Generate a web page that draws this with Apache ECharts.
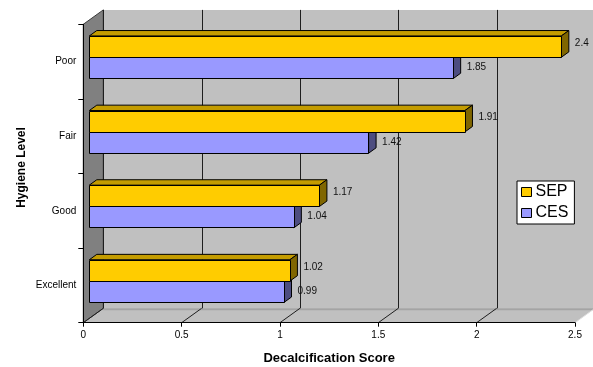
<!DOCTYPE html>
<html>
<head>
<meta charset="utf-8">
<script src="https://cdn.jsdelivr.net/npm/echarts@6/dist/echarts.min.js"></script>
<style>
  html, body { margin: 0; padding: 0; background: #fff; }
  #chart { width: 593px; height: 367px; }
</style>
</head>
<body>
<div id="chart"></div>
<script>
// Hygiene level categories, listed bottom to top
const categories = ['Excellent', 'Good', 'Fair', 'Poor'];
// Decalcification scores per group
const sepValues = [1.02, 1.17, 1.91, 2.4];
const cesValues = [0.99, 1.04, 1.42, 1.85];
// Value axis ticks
const xTicks = [0, 0.5, 1, 1.5, 2, 2.5];

const FONT = "'Liberation Sans', Arial, sans-serif";

// Depth of the pseudo-3D box (screen offset from front plane to back wall)
const DEPTH_X = 20, DEPTH_Y = -14.4;
// Bars sit partway into the box and have their own thickness
const BAR_FRONT = 0.3, BAR_THICK = 0.375;
const BAR_FRAC = 0.286; // bar height as fraction of a category band

const px = v => Math.round(v) + 0.5;

function frameItem(params, api) {
  const cs = params.coordSys;
  const x0 = cs.x, x1 = cs.x + cs.width;
  const yT = cs.y, yB = cs.y + cs.height;
  const children = [];
  // back wall
  children.push({ type: 'rect', shape: { x: x0 + DEPTH_X, y: yT + DEPTH_Y, width: x1 - x0 + 40, height: yB - yT },
    style: { fill: '#c0c0c0' } });
  // floor
  children.push({ type: 'polygon', shape: { points: [[x0, yB], [x1, yB], [x1 + DEPTH_X, yB + DEPTH_Y], [x0 + DEPTH_X, yB + DEPTH_Y]] },
    style: { fill: '#c0c0c0' } });
  // back edge of floor
  children.push({ type: 'line', shape: { x1: x0 + DEPTH_X, y1: yB + DEPTH_Y + 1, x2: x1 + DEPTH_X + 40, y2: yB + DEPTH_Y + 1 },
    style: { stroke: '#a4a4a4', lineWidth: 2 } });
  // left wall
  children.push({ type: 'polygon', shape: { points: [[x0, yT], [x0 + DEPTH_X, yT + DEPTH_Y], [x0 + DEPTH_X, yB + DEPTH_Y], [x0, yB]] },
    style: { fill: '#808080', stroke: '#3a3a3a', lineWidth: 1 } });
  // gridlines on back wall and floor
  xTicks.forEach(t => {
    const x = api.coord([t, 0])[0];
    children.push({ type: 'line', shape: { x1: px(x + DEPTH_X), y1: yT + DEPTH_Y, x2: px(x + DEPTH_X), y2: yB + DEPTH_Y },
      style: { stroke: '#1e1e1e', lineWidth: 1 } });
    children.push({ type: 'line', shape: { x1: x, y1: yB, x2: x + DEPTH_X, y2: yB + DEPTH_Y },
      style: { stroke: t === xTicks[xTicks.length - 1] ? '#e0e0e0' : '#1e1e1e', lineWidth: 1 } });
  });
  return { type: 'group', children };
}

function barRenderer(upper, colors, labelShift) {
  return function (params, api) {
    const v = api.value(0), c = api.value(1);
    const p0 = api.coord([0, c]);
    const p1 = api.coord([v, c]);
    const band = api.size([0, 1])[1];
    const h = band * BAR_FRAC;
    const fx = DEPTH_X * BAR_FRONT, fy = DEPTH_Y * BAR_FRONT;
    const dx = DEPTH_X * BAR_THICK, dy = DEPTH_Y * BAR_THICK;
    const xa = p0[0] + fx, xb = p1[0] + fx;
    const yt = (upper ? p0[1] - h : p0[1]) + fy;
    const yb = yt + h;
    const edge = { stroke: '#000', lineWidth: 1 };
    return {
      type: 'group',
      children: [
        { type: 'polygon', shape: { points: [[xa, yt], [xa + dx, yt + dy], [xb + dx, yt + dy], [xb, yt]] },
          style: Object.assign({ fill: colors.top }, edge) },
        { type: 'polygon', shape: { points: [[xb, yt], [xb + dx, yt + dy], [xb + dx, yb + dy], [xb, yb]] },
          style: Object.assign({ fill: colors.side }, edge) },
        { type: 'rect', shape: { x: px(xa), y: px(yt), width: Math.round(xb - xa), height: Math.round(h) },
          style: Object.assign({ fill: colors.front }, edge) },
        { type: 'text', style: { text: String(v), x: xb + dx + 6, y: (yt + yb) / 2 + labelShift,
          fill: '#111', font: '10px ' + FONT, verticalAlign: 'middle', align: 'left' } }
      ]
    };
  };
}

const chart = echarts.init(document.getElementById('chart'), null, { renderer: 'canvas' });
chart.setOption({
  backgroundColor: '#fff',
  animation: false,
  grid: { left: 83.3, right: 18, top: 24.3, bottom: 44.3, containLabel: false, outerBoundsMode: 'none' },
  legend: {
    data: ['SEP', 'CES'],
    orient: 'vertical',
    left: 517, top: 181,
    padding: [3, 6, 3, 4],
    itemGap: 5,
    itemWidth: 10, itemHeight: 9,
    icon: 'rect',
    backgroundColor: '#fff',
    borderColor: '#000', borderWidth: 1, borderRadius: 0,
    itemStyle: { borderColor: '#000', borderWidth: 1 },
    textStyle: { fontFamily: FONT, fontSize: 16, color: '#000', lineHeight: 15, padding: [0, 0, 0, -1] }
  },
  xAxis: {
    type: 'value', min: 0, max: 2.5, interval: 0.5,
    z: 5,
    splitLine: { show: false },
    axisLine: { show: true, lineStyle: { color: '#000', width: 1 } },
    axisTick: { show: true, length: 4, lineStyle: { color: '#000' } },
    axisLabel: { fontFamily: FONT, fontSize: 10, color: '#000', margin: 8 },
    name: 'Decalcification Score', nameLocation: 'middle', nameGap: 29, nameMoveOverlap: false,
    nameTextStyle: { fontFamily: FONT, fontSize: 13, fontWeight: 'bold', color: '#000' }
  },
  yAxis: {
    type: 'category', data: categories,
    z: 5,
    axisLine: { show: true, lineStyle: { color: '#000', width: 1 } },
    axisTick: { show: true, length: 5, lineStyle: { color: '#000' } },
    axisLabel: { fontFamily: FONT, fontSize: 10, color: '#000', margin: 7 },
    name: 'Hygiene Level', nameLocation: 'middle', nameGap: 56, nameMoveOverlap: false,
    nameTextStyle: { fontFamily: FONT, fontSize: 12, fontWeight: 'bold', color: '#000', padding: [0, 0, 0, 12] }
  },
  series: [
    { type: 'custom', name: 'frame', z: 1, silent: true, renderItem: frameItem, data: [[0, 0]],
      encode: { x: 0, y: 1 } },
    { type: 'custom', name: 'CES', z: 2,
      itemStyle: { color: '#9999ff', borderColor: '#000', borderWidth: 1 },
      renderItem: barRenderer(false, { front: '#9999ff', top: '#7373bf', side: '#4d4d80' }, -0.5),
      data: cesValues.map((v, i) => [v, i]), encode: { x: 0, y: 1 } },
    { type: 'custom', name: 'SEP', z: 3,
      itemStyle: { color: '#ffcc00', borderColor: '#000', borderWidth: 1 },
      renderItem: barRenderer(true, { front: '#ffcc00', top: '#c49c00', side: '#806600' }, -3.5),
      data: sepValues.map((v, i) => [v, i]), encode: { x: 0, y: 1 } }
  ]
});
</script>
</body>
</html>
